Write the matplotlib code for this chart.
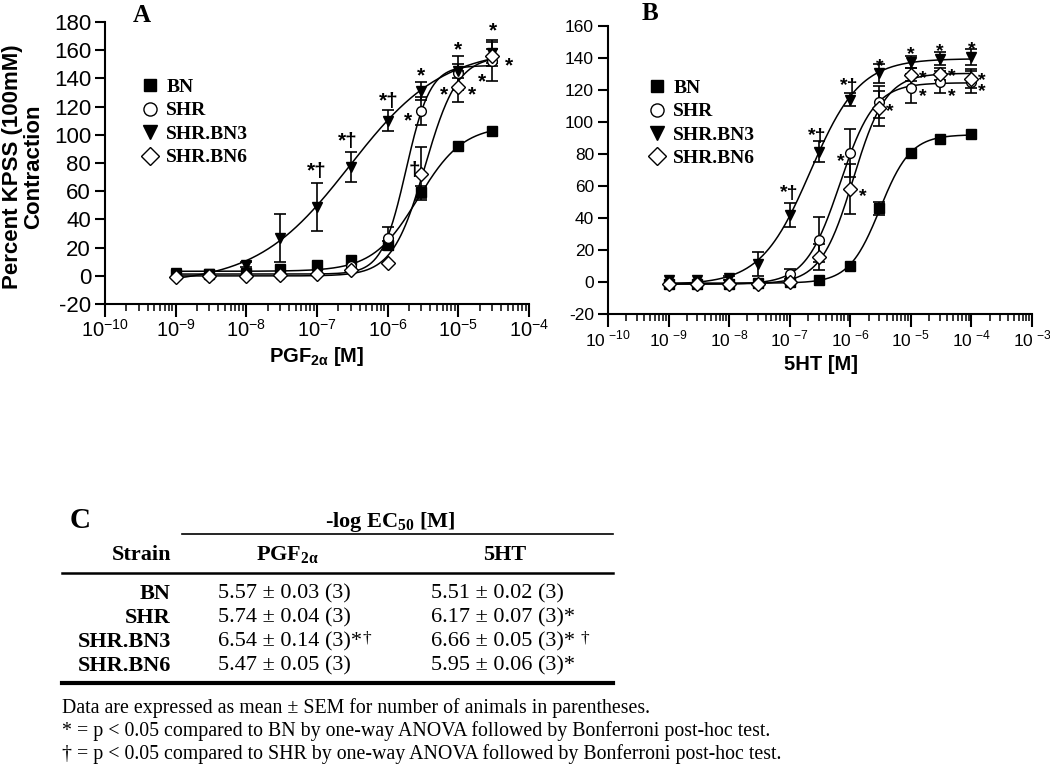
import numpy as np
import matplotlib
matplotlib.use('Agg')
import matplotlib.pyplot as plt
from matplotlib.ticker import LogLocator, NullFormatter, FuncFormatter, FixedLocator
from matplotlib.lines import Line2D
from matplotlib.transforms import Affine2D
from matplotlib.font_manager import FontProperties

plt.rcParams['font.family'] = ['Liberation Sans', 'DejaVu Sans']
plt.rcParams['axes.unicode_minus'] = False

# ---------------- data ----------------
series = ['BN', 'SHR', 'SHR.BN3', 'SHR.BN6']

conc_A = [1e-9, 3e-9, 1e-8, 3e-8, 1e-7, 3e-7, 1e-6, 3e-6, 1e-5, 3e-5]
A_BN = [1, 1, 2, 4.5, 7.5, 11.5, 22, 59.5, 92, 102.5]
A_BN_err = [0, 0, 0, 0, 0, 0, 3, 4.5, 0, 0]
A_SHR = [0, 0, 0.5, 0.5, 2, 7, 26.5, 117, 144, 152]
A_SHR_err = [0, 0, 0, 0, 0, 0, 8, 10, 12, 14]
A_BN3 = [2, 1.5, 8, 27, 48.5, 77, 110, 131, 145, 158]
A_BN3_err = [0, 0, 1.5, 17, 17, 10.5, 7.5, 6.5, 5, 9]
A_BN6 = [-1, 0, 0, 0.5, 1, 4, 9, 72.5, 134, 156]
A_BN6_err = [0, 0, 0, 0, 0, 0, 0, 19, 11, 5]

conc_B = [1e-9, 3e-9, 1e-8, 3e-8, 1e-7, 3e-7, 1e-6, 3e-6, 1e-5, 3e-5, 1e-4]
B_BN = [-1, -1, -1, -0.5, 0, 1.5, 10, 46, 80.5, 89.5, 92.5]
B_BN_err = [0, 0, 0, 0, 0, 0, 0, 4, 0, 0, 0]
B_SHR = [-1, -1, -1.5, -0.5, 5, 26.5, 80.5, 112.5, 121, 125, 125]
B_SHR_err = [0, 0, 0, 0, 3, 14, 15, 10, 9, 7, 7]
B_BN3 = [1, 1, 2.5, 11, 42, 81.5, 114, 130.5, 137.5, 139.5, 140.5]
B_BN3_err = [0, 0, 1.5, 7.5, 7.5, 6.5, 4, 6, 4, 4, 5]
B_BN6 = [-1.5, -1.5, -1, -1, 0, 15.5, 58, 108.5, 129.5, 130, 127]
B_BN6_err = [0, 0, 0, 0, 0, 8, 15.5, 11, 4, 4, 6]

# table: -log EC50
pgf_mean = [5.57, 5.74, 6.54, 5.47]
pgf_sem = [0.03, 0.04, 0.14, 0.05]
pgf_n = [3, 3, 3, 3]
pgf_star = ['', '', '*', '']
pgf_dag = ['', '', '†', '']
ht_mean = [5.51, 6.17, 6.66, 5.95]
ht_sem = [0.02, 0.07, 0.05, 0.06]
ht_n = [3, 3, 3, 3]
ht_star = ['', '*', '*', '*']
ht_dag = ['', '', '†', '']

# significance marks (concentration, response, label)
sig_A = [(1e-7, 78, '*†'), (10**-6.56, 99.6, '*†'), (10**-5.99, 128, '*†'),
         (10**-5.53, 145.7, '*'), (10**-5.71, 113.8, '*'), (10**-5.62, 75, '†'),
         (1e-5, 164.6, '*'), (10**-5.21, 132.7, '*'), (10**-4.81, 132.7, '*'),
         (10**-4.51, 177.6, '*'), (10**-4.29, 152.8, '*'), (10**-4.66, 142, '*')]
sig_B = [(1e-7, 59, '*†'), (10**-6.55, 95, '*†'), (10**-6.02, 125.8, '*†'),
         (10**-5.51, 138.5, '*'), (1e-5, 145.9, '*'), (10**-4.52, 148, '*'),
         (1e-4, 149, '*'), (10**-6.15, 78.9, '*'), (10**-5.79, 57, '*'),
         (10**-5.34, 110.6, '*'), (10**-4.81, 131, '*'), (10**-4.81, 119.5, '*'),
         (10**-4.33, 132, '*'), (10**-4.33, 120, '*'), (10**-3.83, 130, '*'),
         (10**-3.83, 122.6, '*')]

notes = ['Data are expressed as mean ± SEM for number of animals in parentheses.',
         '* = p < 0.05 compared to BN by one-way ANOVA followed by Bonferroni post-hoc test.',
         '† = p < 0.05 compared to SHR by one-way ANOVA followed by Bonferroni post-hoc test.']

# ---------------- helpers ----------------
styles = {
    'BN': dict(marker='s', mfc='black', mec='black'),
    'SHR': dict(marker='o', mfc='white', mec='black'),
    'SHR.BN3': dict(marker='v', mfc='black', mec='black'),
    'SHR.BN6': dict(marker='D', mfc='white', mec='black'),
}
msize = {'s': 6.5, 'o': 7, 'v': 7.5, 'D': 7}


def fit_logistic(conc, resp, pec50):
    lx = np.log10(conc)
    y = np.asarray(resp, float)
    best = None
    for h in np.linspace(0.4, 4.0, 361):
        s = 1.0 / (1.0 + 10 ** ((-pec50 - lx) * h))
        M = np.column_stack([1 - s, s])
        coef, *_ = np.linalg.lstsq(M, y, rcond=None)
        sse = np.sum((M @ coef - y) ** 2)
        if best is None or sse < best[0]:
            best = (sse, coef[0], coef[1], h)
    return best[1:]


W, H = 1050, 773
fig = plt.figure(figsize=(W / 100, H / 100), dpi=100)
tpx = Affine2D().scale(1 / W, -1 / H).translate(0, 1) + fig.transFigure


def draw_panel(ax, conc, data, errs, pec50s, sig, xmax_exp, ymax, yfs, xfs, spaced, sigfs):
    conc = np.asarray(conc)
    for name, y, e, p in zip(series, data, errs, pec50s):
        b, t, h = fit_logistic(conc, y, p)
        lxf = np.linspace(np.log10(conc[0]), np.log10(conc[-1]), 400)
        yf = b + (t - b) / (1 + 10 ** ((-p - lxf) * h))
        ax.plot(10 ** lxf, yf, color='black', lw=1.1, zorder=2)
    for name, y, e in zip(series, data, errs):
        y = np.asarray(y, float)
        e = np.asarray(e, float)
        m = e > 0
        ax.errorbar(conc[m], y[m], yerr=e[m], fmt='none', ecolor='black',
                    elinewidth=1.2, capsize=4, capthick=1.2, zorder=3)
    for name, y in zip(series, data):
        st = styles[name]
        ax.plot(conc, y, ls='none', marker=st['marker'], ms=msize[st['marker']],
                mfc=st['mfc'], mec=st['mec'], mew=1.0, zorder=4)
    for xv, yv, lab in sig:
        off = -0.3 * sigfs if lab == '†' else -0.55 * sigfs
        ax.annotate(lab, xy=(xv, yv), xytext=(0, off), textcoords='offset points',
                    ha='center', va='baseline', fontsize=sigfs, fontweight='bold',
                    zorder=5, annotation_clip=False)
    ax.set_xscale('log')
    ax.set_xlim(1e-10, 10.0 ** xmax_exp)
    ax.set_ylim(-20, ymax)
    ax.yaxis.set_major_locator(FixedLocator(np.arange(-20, ymax + 1, 20)))
    ax.xaxis.set_major_locator(LogLocator(base=10, numticks=30))
    ax.xaxis.set_minor_locator(LogLocator(base=10, subs=np.arange(2, 10), numticks=30))
    ax.xaxis.set_minor_formatter(NullFormatter())
    if spaced:
        fmt = FuncFormatter(lambda v, pos: r'10$^{\ \mathdefault{%d}}$' % round(np.log10(v)))
    else:
        fmt = FuncFormatter(lambda v, pos: r'10$^{\mathdefault{%d}}$' % round(np.log10(v)))
    ax.xaxis.set_major_formatter(fmt)
    for s in ['top', 'right']:
        ax.spines[s].set_visible(False)
    for s in ['left', 'bottom']:
        ax.spines[s].set_linewidth(1.5)
    ax.tick_params(axis='y', which='major', direction='out', length=7, width=1.5,
                   labelsize=yfs, pad=3)
    ax.tick_params(axis='x', which='major', direction='out', length=9, width=1.5,
                   labelsize=xfs, pad=2)
    ax.tick_params(axis='x', which='minor', direction='out', length=5, width=1.1)
    ax.patch.set_alpha(0)


axA = fig.add_axes([105 / W, 1 - 304 / H, 424 / W, 282 / H])
axB = fig.add_axes([608 / W, 1 - 314 / H, 424 / W, 288 / H])

draw_panel(axA, conc_A, [A_BN, A_SHR, A_BN3, A_BN6],
           [A_BN_err, A_SHR_err, A_BN3_err, A_BN6_err], pgf_mean, sig_A,
           -4, 180, 16, 14.5, False, 15)
draw_panel(axB, conc_B, [B_BN, B_SHR, B_BN3, B_BN6],
           [B_BN_err, B_SHR_err, B_BN3_err, B_BN6_err], ht_mean, sig_B,
           -3, 160, 12.5, 12.5, True, 14)

legfont = FontProperties(family='Liberation Serif', weight='bold', size=14)
for ax, anchor in [(axA, (0.087, 0.8)), (axB, (0.097, 0.815))]:
    handles = [Line2D([], [], ls='none', marker=styles[n]['marker'],
                      ms=msize[styles[n]['marker']] * 1.35, mfc=styles[n]['mfc'],
                      mec='black', mew=1.0) for n in series]
    ax.legend(handles, series, loc='upper left', bbox_to_anchor=anchor, frameon=False,
              prop=legfont, handlelength=0.8, handletextpad=0.45, labelspacing=0.3,
              borderpad=0, borderaxespad=0)

# axis labels and panel letters
fig.text(23, 167, 'Percent KPSS (100mM)\nContraction', transform=tpx, rotation=90,
         ha='center', va='center', multialignment='center', fontsize=16,
         fontweight='bold', linespacing=1.05)
fig.text(317, 356, r'PGF$_{\mathdefault{2α}}$ [M]', transform=tpx, ha='center',
         va='center', fontsize=14.5, fontweight='bold')
fig.text(821, 364, '5HT [M]', transform=tpx, ha='center', va='center',
         fontsize=14.5, fontweight='bold')
fig.text(142, 15, 'A', transform=tpx, ha='center', va='center', fontsize=18,
         fontweight='bold', family='Liberation Serif')
fig.text(650, 13, 'B', transform=tpx, ha='center', va='center', fontsize=18,
         fontweight='bold', family='Liberation Serif')

# ---------------- table C ----------------
serif = 'Liberation Serif'
tfs = 16
fig.text(80, 521, 'C', transform=tpx, ha='center', va='center', fontsize=21,
         fontweight='bold', family=serif)
fig.text(390, 522, r'-log EC$_{\mathdefault{50}}$ [M]', transform=tpx, ha='center',
         va='center', fontsize=tfs, fontweight='bold', family=serif)
fig.add_artist(Line2D([182, 613], [534, 534], transform=tpx, color='black', lw=1.2))
fig.text(171, 555, 'Strain', transform=tpx, ha='right', va='center', fontsize=tfs,
         fontweight='bold', family=serif)
fig.text(288, 555, r'PGF$_{\mathdefault{2α}}$', transform=tpx, ha='center', va='center',
         fontsize=tfs, fontweight='bold', family=serif)
fig.text(505, 555, '5HT', transform=tpx, ha='center', va='center', fontsize=tfs,
         fontweight='bold', family=serif)
fig.add_artist(Line2D([62, 613], [573, 573], transform=tpx, color='black', lw=1.8))
row_y = [594, 618, 642, 666]
for i, name in enumerate(series):
    y = row_y[i]
    fig.text(171, y, name, transform=tpx, ha='right', va='center', fontsize=tfs,
             fontweight='bold', family=serif)
    for x0, mean, sem, n, star, dag, gap in [
            (218, pgf_mean[i], pgf_sem[i], pgf_n[i], pgf_star[i], pgf_dag[i], 0.5),
            (431, ht_mean[i], ht_sem[i], ht_n[i], ht_star[i], ht_dag[i], 4)]:
        t = fig.text(x0, y, '%.2f ± %.2f (%d)%s' % (mean, sem, n, star), transform=tpx,
                     ha='left', va='center', fontsize=tfs, family=serif)
        if dag:
            ann = plt.annotate(dag, xy=(1, 1.08), xycoords=t, xytext=(gap, 0),
                               textcoords='offset points', ha='left', va='top',
                               fontsize=12.5, family=serif, annotation_clip=False)
            ann.remove()
            fig.add_artist(ann)
fig.add_artist(Line2D([62, 613], [683, 683], transform=tpx, color='black', lw=3))
for y, line in zip([708, 731, 754], notes):
    fig.text(62, y, line, transform=tpx, ha='left', va='center', fontsize=14.3,
             family=serif)

fig.savefig('out.png', dpi=100)
